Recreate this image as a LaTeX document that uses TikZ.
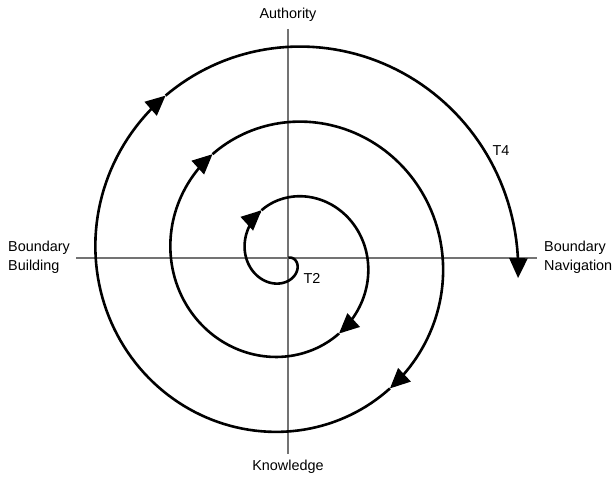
\documentclass[tikz,border=0pt]{standalone}
\usepackage{fontspec}
\setmainfont{Liberation Sans}
\usetikzlibrary{arrows.meta}
\begin{document}
\begin{tikzpicture}[x=1pt,y=-1pt,
  axis/.style={draw=black!55,line width=1.4pt},
  spiral/.style={draw=black,line width=2.6pt,-{Triangle[length=20pt,width=18pt]}},
  lbl/.style={font=\fontsize{14.4}{19}\selectfont,inner sep=0pt}]
\useasboundingbox (0,0) rectangle (614,478);
% axes
\coordinate (top) at (288,29);
\coordinate (bot) at (288,454);
\coordinate (lft) at (76,258);
\coordinate (rgt) at (537,258);
\draw[axis] (top) -- (bot);
\draw[axis] (lft) -- (rgt);
% labels
\node[lbl] (auth) at (288,15) {Authority};
\node[lbl] (know) at (288,467) {Knowledge};
\node[lbl,align=left,anchor=west] (bb) at (8,257.5) {Boundary\\Building};
\node[lbl,align=left,anchor=west] (bn) at (544,257.5) {Boundary\\Navigation};
\node[lbl] (t4) at (501,151) {T4};
\node[lbl] (t2) at (312,278) {T2};
% spiral
\begin{scope}[shift={(288,258)}]
\draw[spiral] plot[domain=-18:241,samples=130] (\x:{4.2+0.209*\x});
\draw[spiral] plot[domain=241:416,samples=90] (\x:{4.2+0.209*\x});
\draw[spiral] plot[domain=416:594,samples=90] (\x:{4.2+0.209*\x});
\draw[spiral] plot[domain=594:772,samples=90] (\x:{4.2+0.209*\x});
\draw[spiral] plot[domain=772:953,samples=90] (\x:{4.2+0.209*\x});
\draw[spiral] plot[domain=953:1085,samples=70] (\x:{4.2+0.209*\x});
\end{scope}
\end{tikzpicture}
\end{document}
